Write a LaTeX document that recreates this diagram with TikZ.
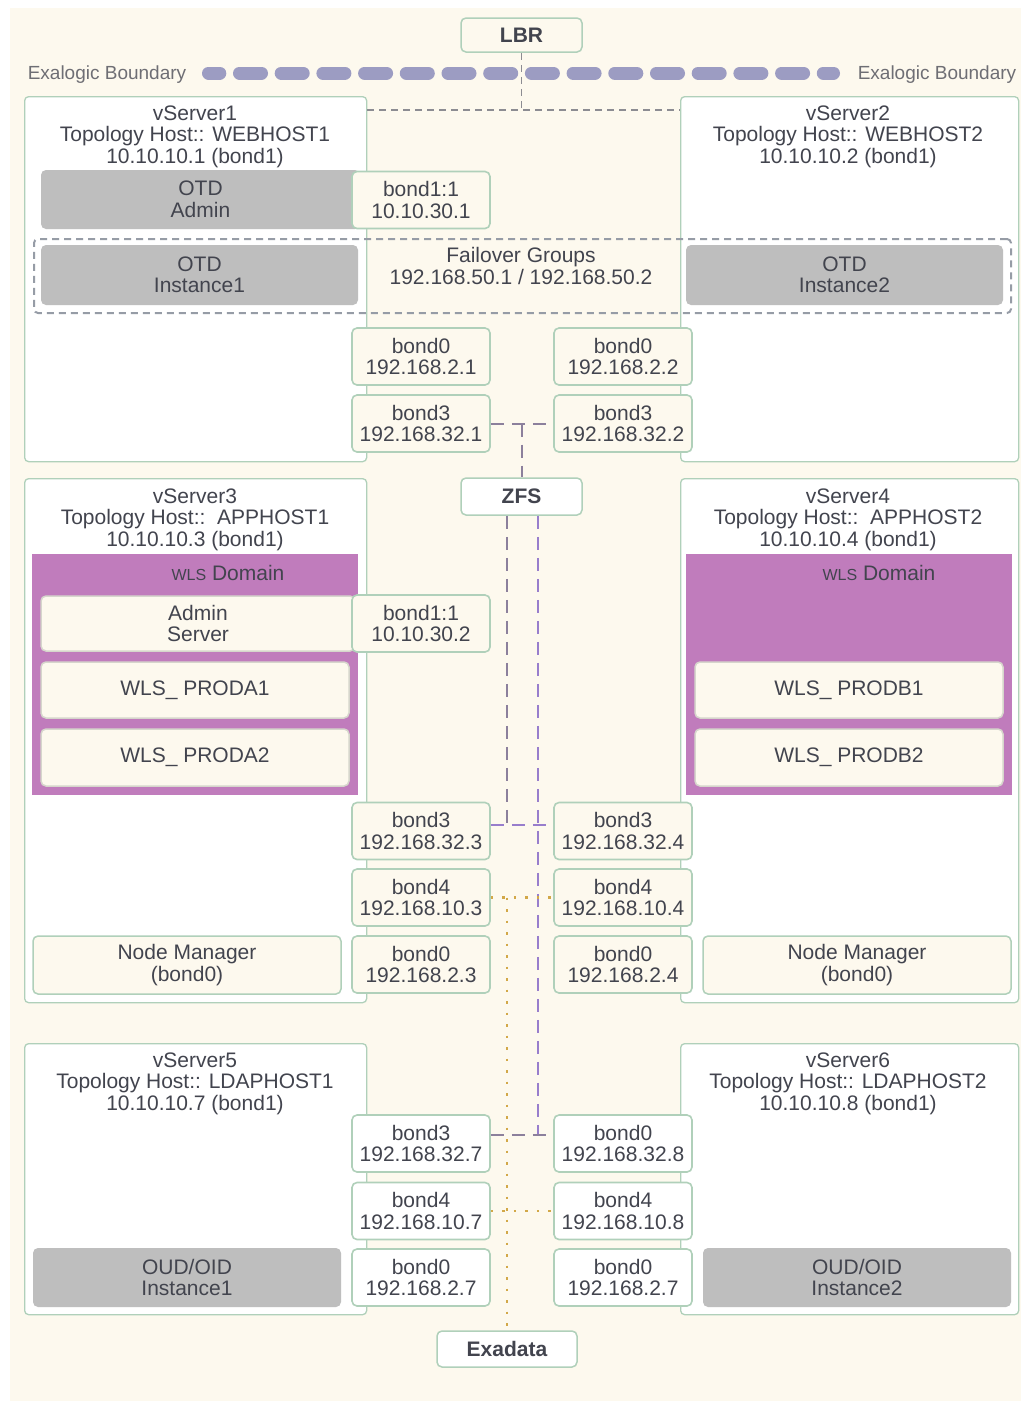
\documentclass[tikz,border=0pt]{standalone}
\usepackage{fontspec}
\setmainfont{Liberation Sans}
\usepackage{xcolor}
\usepackage{tikz}
\usetikzlibrary{positioning, calc}
\definecolor{cream}{RGB}{253,249,238}
\definecolor{ink}{RGB}{66,68,78}
\definecolor{boxline}{RGB}{176,208,186}
\definecolor{inneredge}{RGB}{214,214,204}
\definecolor{otdgrey}{RGB}{190,190,190}
\definecolor{wlspurple}{RGB}{192,124,188}
\definecolor{boundary}{RGB}{156,156,194}
\definecolor{boundtext}{RGB}{110,110,116}
\definecolor{zfsgrey}{RGB}{140,128,156}
\definecolor{zfsline}{RGB}{152,126,204}
\definecolor{exaline}{RGB}{210,168,72}
\definecolor{lbrline}{RGB}{140,140,146}
\definecolor{failedge}{RGB}{150,156,166}
\tikzstyle{server} = [draw=boxline, fill=white, rounded corners=4pt, line width=1.3pt, anchor=north west, inner sep=0pt]
\tikzstyle{bondbox} = [draw=boxline, fill=cream, rounded corners=5pt, line width=1.6pt, minimum width=138pt, minimum height=57pt, inner sep=0pt]
\tikzstyle{otdbox} = [fill=otdgrey, rounded corners=5pt, inner sep=0pt]
\tikzstyle{wlsdom} = [fill=wlspurple, anchor=north west, inner sep=0pt, minimum width=326pt, minimum height=241pt]
\tikzstyle{wlsbox} = [draw=inneredge, fill=cream, rounded corners=5pt, line width=1.5pt, inner sep=0pt]
\tikzstyle{sidebox} = [draw=boxline, fill=cream, rounded corners=5pt, line width=1.5pt, inner sep=0pt, minimum width=308pt, minimum height=58pt]
\tikzstyle{infra} = [draw=boxline, fill=white, rounded corners=5pt, line width=1.5pt, inner sep=0pt, font=\fontsize{21}{22}\selectfont\bfseries]
\tikzstyle{boundlabel} = [text=boundtext, font=\fontsize{19}{20}\selectfont]
\tikzstyle{lbrlink} = [lbrline, line width=1.3pt, dash pattern=on 7pt off 5pt]
\tikzstyle{zfslink} = [line width=2pt, dash pattern=on 13pt off 8pt]
\tikzstyle{exalink} = [exaline, line width=2.5pt, dash pattern=on 2.5pt off 9pt]

\begin{document}
\begin{tikzpicture}[x=1pt, y=-1pt, every node/.style={font=\fontsize{21}{21.5}\selectfont, text=ink, align=center}]
    % Background
    \fill[white] (0,0) rectangle (1021,1401);
    \fill[cream] (10,8) rectangle (1021,1401);

    % Exalogic boundary
    \draw[boundary, line width=13pt, line cap=round, dash pattern=on 22pt off 19.7pt, dash phase=10.7pt] (208.5,73) -- (833.5,73);
    \node[boundlabel] (exl) at (107,75) {Exalogic Boundary};
    \node[boundlabel] (exr) at (937,75) {Exalogic Boundary};

    % vServers
    \node[server, minimum width=342pt, minimum height=365pt] (vs1) at (24,96) {};
    \node[server, minimum width=338pt, minimum height=365pt] (vs2) at (680,96) {};
    \node[server, minimum width=342pt, minimum height=524pt] (vs3) at (24,478) {};
    \node[server, minimum width=338pt, minimum height=524pt] (vs4) at (680,478) {};
    \node[server, minimum width=342pt, minimum height=271pt] (vs5) at (24,1043) {};
    \node[server, minimum width=338pt, minimum height=271pt] (vs6) at (680,1043) {};

    \node (vs1t) at (195,136.5) {vServer1\\Topology Host:: WEBHOST1\\10.10.10.1 (bond1)};
    \node (vs2t) at (848,136.5) {vServer2\\Topology Host:: WEBHOST2\\10.10.10.2 (bond1)};
    \node (vs3t) at (195,519.5) {vServer3\\Topology Host::\ \ APPHOST1\\10.10.10.3 (bond1)};
    \node (vs4t) at (848,519.5) {vServer4\\Topology Host::\ \ APPHOST2\\10.10.10.4 (bond1)};
    \node (vs5t) at (195,1083.5) {vServer5\\Topology Host:: LDAPHOST1\\10.10.10.7 (bond1)};
    \node (vs6t) at (848,1083.5) {vServer6\\Topology Host:: LDAPHOST2\\10.10.10.8 (bond1)};

    % OTD
    \node[otdbox, minimum width=319pt, minimum height=59pt] (otda) at (200.5,199.5) {OTD\\Admin};
    \node[draw=failedge, line width=2pt, dash pattern=on 7pt off 5pt, rounded corners=4pt, anchor=north west, inner sep=0pt, minimum width=977pt, minimum height=74pt] (fog) at (33,238) {};
    \node (fogt) at (521,266) {Failover Groups\\192.168.50.1 / 192.168.50.2};
    \node[otdbox, minimum width=317pt, minimum height=60pt] (otd1) at (199.5,275) {OTD\\Instance1};
    \node[otdbox, minimum width=317pt, minimum height=60pt] (otd2) at (844.5,275) {OTD\\Instance2};

    % WLS domains
    \node[wlsdom] (wls3) at (32,554) {};
    \node[wlsdom] (wls4) at (686,554) {};
    \node (wls3t) at (228,573) {{\fontsize{16}{16}\selectfont WLS} Domain};
    \node (wls4t) at (879,573) {{\fontsize{16}{16}\selectfont WLS} Domain};
    \node[wlsbox, minimum width=314pt, minimum height=55pt] (adm) at (198,623.5) {Admin\\Server};
    \node[wlsbox, minimum width=308pt, minimum height=56pt] (pa1) at (195,690) {WLS\_ PRODA1};
    \node[wlsbox, minimum width=308pt, minimum height=57pt] (pa2) at (195,757.5) {WLS\_ PRODA2};
    \node[wlsbox, minimum width=308pt, minimum height=56pt] (pb1) at (849,690) {WLS\_ PRODB1};
    \node[wlsbox, minimum width=308pt, minimum height=57pt] (pb2) at (849,757.5) {WLS\_ PRODB2};

    % Node Manager and OUD/OID
    \node[sidebox] (nm3) at (187,965) {Node Manager\\(bond0)};
    \node[sidebox] (nm4) at (857,965) {Node Manager\\(bond0)};
    \node[otdbox, minimum width=308pt, minimum height=59pt] (oud1) at (187,1277.5) {OUD/OID\\Instance1};
    \node[otdbox, minimum width=308pt, minimum height=59pt] (oud2) at (857,1277.5) {OUD/OID\\Instance2};

    % Bond interfaces
    \foreach \nm/\x/\y/\lbl in {b11a/421/200/{bond1:1\\10.10.30.1}, b0a/421/356.5/{bond0\\192.168.2.1},
        b3a/421/423.5/{bond3\\192.168.32.1}, b0b/623/356.5/{bond0\\192.168.2.2}, b3b/623/423.5/{bond3\\192.168.32.2},
        b11b/421/623.5/{bond1:1\\10.10.30.2}, b3c/421/831/{bond3\\192.168.32.3}, b4c/421/897.5/{bond4\\192.168.10.3},
        b0c/421/964.5/{bond0\\192.168.2.3}, b3d/623/831/{bond3\\192.168.32.4}, b4d/623/897.5/{bond4\\192.168.10.4},
        b0d/623/964.5/{bond0\\192.168.2.4}} {
        \node[bondbox] (\nm) at (\x,\y) {\lbl};
    }
    \foreach \nm/\x/\y/\lbl in {b3e/421/1143.5/{bond3\\192.168.32.7}, b4e/421/1211/{bond4\\192.168.10.7},
        b0e/421/1277.5/{bond0\\192.168.2.7}, b0f/623/1143.5/{bond0\\192.168.32.8}, b4f/623/1211/{bond4\\192.168.10.8},
        b0g/623/1277.5/{bond0\\192.168.2.7}} {
        \node[bondbox, fill=white] (\nm) at (\x,\y) {\lbl};
    }

    % LBR, ZFS, Exadata
    \node[infra, fill=cream, minimum width=121pt, minimum height=34pt] (lbr) at (521.5,35) {LBR};
    \node[infra, minimum width=121pt, minimum height=37pt] (zfs) at (521.5,496.5) {ZFS};
    \node[infra, minimum width=140pt, minimum height=36pt] (exa) at (507,1349) {Exadata};

    % LBR to web tier
    \coordinate (lbrj) at (521.5,110);
    \draw[lbrlink] (lbr.south) -- (lbrj);
    \draw[lbrlink] (vs1.east |- lbrj) -- (vs2.west |- lbrj);

    % ZFS storage network
    \coordinate (zj1) at (zfs.north |- b3a.east);
    \coordinate (zj2) at (507,825);
    \coordinate (zj3) at (538,1135);
    \draw[zfslink, zfsgrey] (b3a.east) -- (b3b.west);
    \draw[zfslink, zfsgrey] (zj1) -- (zfs.north);
    \draw[zfslink, zfsgrey] (zfs.south -| zj2) -- (zj2);
    \draw[zfslink, zfsline] (b3c.east |- zj2) -- (b3d.west |- zj2);
    \draw[zfslink, zfsline] (zfs.south -| zj3) -- (zj3);
    \draw[zfslink, zfsgrey] (b3e.east |- zj3) -- (b0f.west |- zj3);

    % Exadata network
    \draw[exalink] (b4c.east) -- (b4d.west);
    \draw[exalink] (b4e.east) -- (b4f.west);
    \draw[exalink] (exa.north |- b4c.east) -- (exa.north);
\end{tikzpicture}
\end{document}
